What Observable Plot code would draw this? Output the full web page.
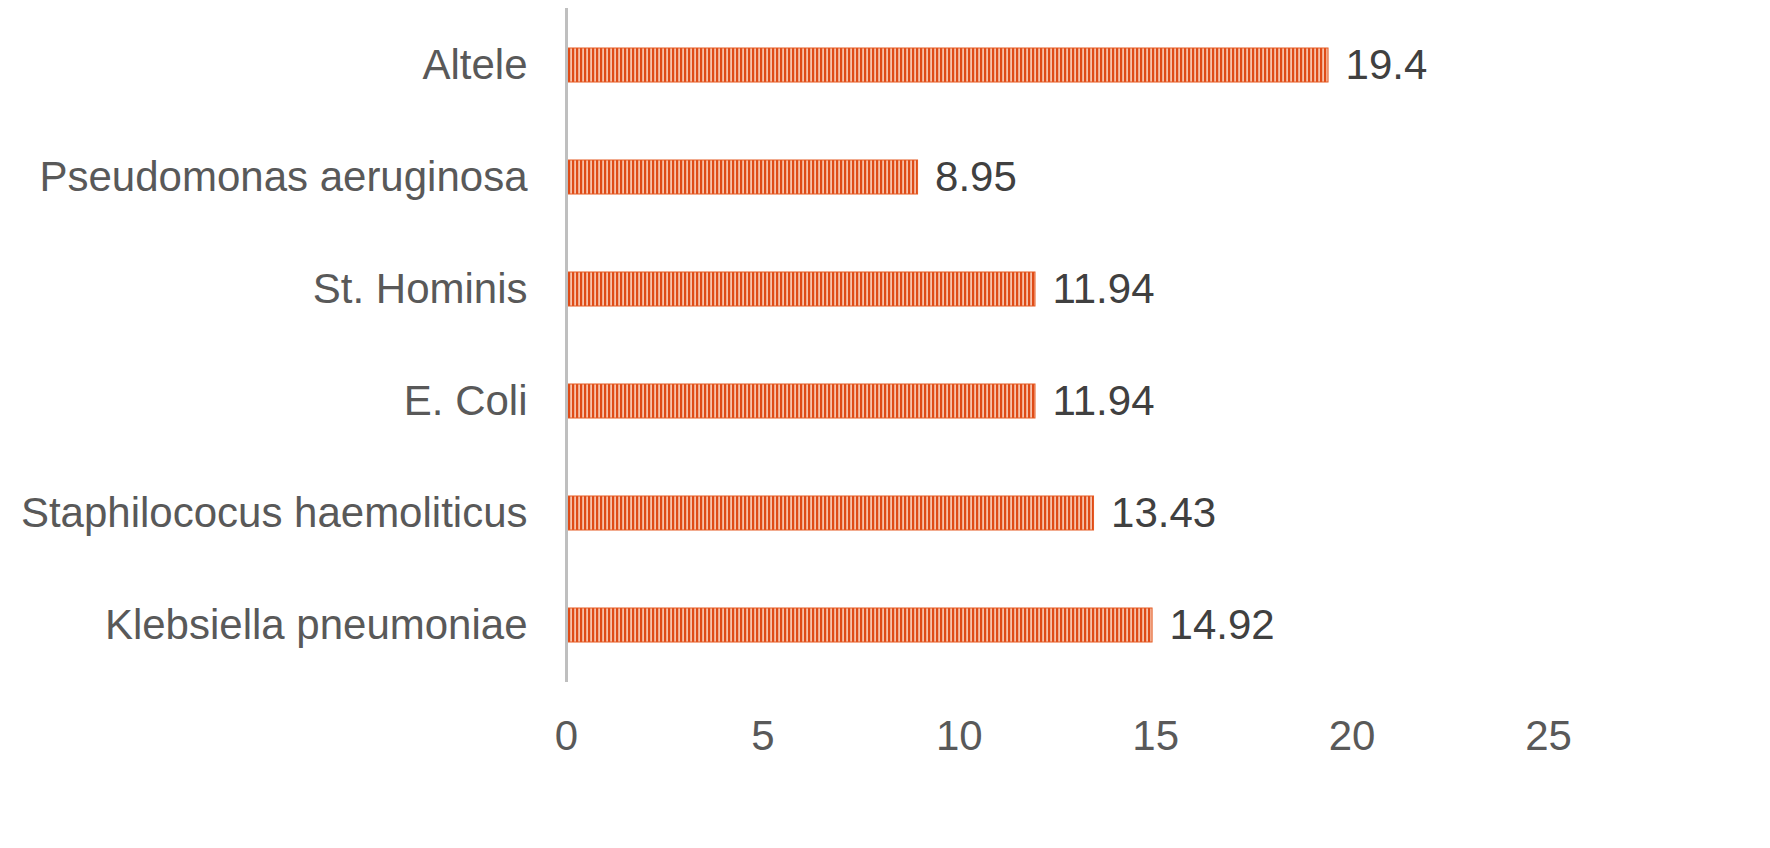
<!DOCTYPE html>
<html><head><meta charset="utf-8">
<script src="https://cdn.jsdelivr.net/npm/d3@7"></script>
<script src="https://cdn.jsdelivr.net/npm/@observablehq/plot@0.6"></script>
<style>
html,body{margin:0;padding:0;background:#fff;}
</style>
</head><body>
<div id="chart"></div>
<script>
const categories = ["Altele", "Pseudomonas aeruginosa", "St. Hominis", "E. Coli", "Staphilococus haemoliticus", "Klebsiella pneumoniae"];
const values = [19.4, 8.95, 11.94, 11.94, 13.43, 14.92];
const valueLabels = ["19.4", "8.95", "11.94", "11.94", "13.43", "14.92"];
const xTicks = [0, 5, 10, 15, 20, 25];

const data = categories.map((c, i) => ({category: c, value: values[i], label: valueLabels[i]}));

const font = "'Liberation Sans', Arial, sans-serif";
const plot = Plot.plot({
  width: 1770,
  height: 848,
  marginLeft: 566,
  marginRight: 222,
  marginTop: 8,
  marginBottom: 166,
  style: {fontFamily: font, fontSize: "42px", color: "#595959", background: "#fff"},
  x: {domain: [0, 25], ticks: xTicks, label: null},
  y: {domain: categories, paddingInner: 0.7, paddingOuter: 0.35, label: null},
  marks: [
    Plot.barX(data, {x: "value", y: "category", fill: "url(#stripes)", stroke: "#E55A22", strokeWidth: 1}),
    Plot.ruleX([0], {stroke: "#BFBFBF", strokeWidth: 3}),
    Plot.text(data, {x: "value", y: "category", text: "label", textAnchor: "start", dx: 17, fill: "#404040", fontSize: 42}),
    Plot.axisY({tickSize: 0, tickPadding: 39, fontSize: 42, fill: "#595959"}),
    Plot.axisX({ticks: xTicks, tickSize: 0, tickPadding: 38, fontSize: 42, fill: "#595959", tickFormat: d => String(d)})
  ]
});

const ns = "http://www.w3.org/2000/svg";
const defs = document.createElementNS(ns, "defs");
defs.innerHTML = `<pattern id="stripes" patternUnits="userSpaceOnUse" x="0" y="0" width="4" height="10">
  <rect width="4" height="10" fill="#F7C2AA"/>
  <rect width="2.2" height="10" fill="#DF4B17"/>
</pattern>`;
plot.insertBefore(defs, plot.firstChild);
document.getElementById("chart").appendChild(plot);
</script>
</body></html>
